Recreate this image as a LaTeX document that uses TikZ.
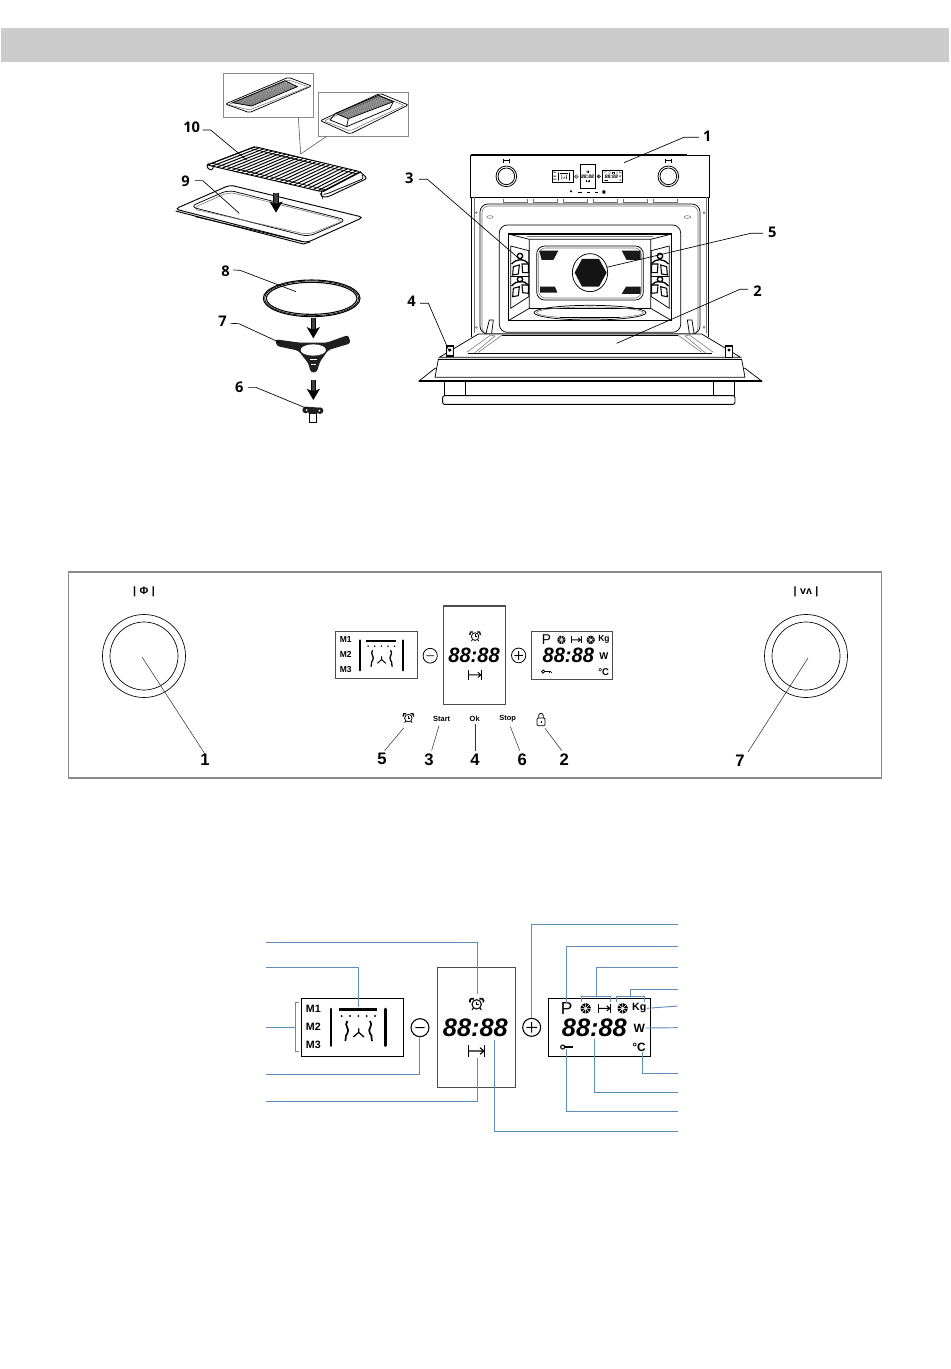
\documentclass[tikz,border=0pt]{standalone}
\usepackage{fontspec}
\setmainfont{Liberation Sans}
\newfontfamily\topfont{Open Sans}
\usetikzlibrary{calc}
\definecolor{hdr}{HTML}{CCCCCC}
\definecolor{blueline}{HTML}{5F8DB8}
\definecolor{framegrey}{HTML}{8A8A8A}
\def\lwA{.7pt}
\tikzset{
  zoomat/.style 2 args={shift={(#1*.75pt,-#2*.75pt)},x=.25pt,y=-.25pt},
  leader/.style={draw=black,line width=.5pt},
  panelleader/.style={draw=black!80,line width=.4pt},
  numtop/.style={font=\topfont\bfseries\fontsize{11}{12}\selectfont,text=black,inner sep=0pt},
  numpanel/.style={font=\bfseries\fontsize{12.5}{14}\selectfont,text=black,inner sep=0pt},
  smalltxt/.style={font=\bfseries\fontsize{5.6}{7}\selectfont,text=black,inner sep=0pt},
  disptxt/.style={font=\bfseries\fontsize{8}{9}\selectfont,text=black,inner sep=0pt,transform shape},
  bigdisp/.style={font=\bfseries\fontsize{9}{10}\selectfont,text=black,inner sep=0pt,transform shape},
  seg/.style={font=\bfseries\itshape\fontsize{19}{22}\selectfont,text=black,inner sep=0pt,transform shape},
  blue/.style={draw=blueline,line width=.7pt},
  dispframe/.style={draw=black,line width=.7pt},
  centerframe/.style={draw=black!70,line width=.7pt},
  oven/.style={draw=black,line width=.55pt},
  ovenlight/.style={draw=black!55,line width=.4pt},
}
\newcommand\alarmicon[3]{\begin{scope}[shift={(#1,#2)},scale=#3]
    \draw[line width=\lwA] (0,3) circle [radius=14];
    \draw[line width=\lwA] (0,-5) -- (0,4) -- (7,4);
    \draw[line width=1.6*\lwA] (-20,-3) .. controls (-23,-12) and (-14,-18) .. (-8,-14);
    \draw[line width=1.6*\lwA] (20,-3) .. controls (23,-12) and (14,-18) .. (8,-14);
    \draw[line width=\lwA] (-10,14) -- (-14,20) (10,14) -- (14,20);
\end{scope}}
\newcommand\cookicon[3]{\begin{scope}[shift={(#1,#2)},scale=#3]
    \draw[line width=\lwA] (-24,-17) -- (-24,17) (24,-17) -- (24,17);
    \draw[line width=\lwA] (-24,0) -- (22,0) (10,-10) -- (22,0) -- (10,10);
\end{scope}}
\newcommand\snowicon[2]{\begin{scope}[shift={(#1,#2)}]
    \fill[black] (0,0) circle [radius=16];
    \draw[white,line width=.45*\lwA] (-17,0) -- (17,0) (0,-17) -- (0,17) (-12,-12) -- (12,12) (-12,12) -- (12,-12);
\end{scope}}
\newcommand\keyicon[2]{\begin{scope}[shift={(#1,#2)}]
    \draw[line width=\lwA] (-12,0) circle [radius=6];
    \draw[line width=\lwA] (-6,0) -- (18,0);
    \draw[line width=1.4*\lwA] (13,0) -- (13,4) (18,0) -- (18,4);
\end{scope}}
\newcommand\lockicon[2]{\begin{scope}[shift={(#1,#2)}]
    \draw[line width=\lwA,rounded corners=.8pt] (-12,-3) rectangle (12,20);
    \draw[line width=\lwA] (-7,-3) -- (-7,-10) arc [start angle=180,end angle=360,radius=7] -- (7,-3);
    \draw[line width=\lwA] (0,5) -- (0,12);
\end{scope}}
\newcommand\arrowblock[2]{\begin{scope}[shift={(#1,#2)}]
    \fill[black!75] (-7,0) rectangle (7,34);
    \draw[black,line width=.4pt] (-7,0) -- (-7,34) (7,0) -- (7,34);
    \fill[black] (-20,26) -- (0,60) -- (20,26) -- (7,32) -- (-7,32) -- cycle;
\end{scope}}
\newcommand\sidewall{%
    \draw[oven] (332,378) -- (386,392) -- (386,530) -- (332,565) -- cycle;
    \draw[line width=1pt] (360,408) circle [radius=8];
    \draw[line width=1pt] (335,432) .. controls (350,415) and (372,415) .. (385,430);
    \draw[line width=.8pt,fill=white] (340,440) -- (358,435) -- (355,462) -- (338,465) -- cycle;
    \draw[line width=.8pt,fill=white] (366,432) -- (385,432) -- (385,458) -- (368,458) -- cycle;
    \draw[line width=1pt] (360,478) circle [radius=8];
    \draw[line width=1pt] (335,498) .. controls (350,480) and (372,480) .. (385,495);
    \draw[line width=.8pt,fill=white] (340,505) -- (358,500) -- (355,527) -- (338,530) -- cycle;
    \draw[line width=.8pt,fill=white] (366,495) -- (385,495) -- (385,520) -- (368,518) -- cycle;
    \draw[line width=1.2pt] (332,470) -- (386,470);
}
% the whole three-part display, in the coordinates of the large version
\newcommand\displaygroup{%
  \draw[dispframe] (123,250) rectangle (431,423);
  \node[disptxt] (m1) at (160,280) {M1};
  \node[disptxt] (m2) at (160,335) {M2};
  \node[disptxt] (m3) at (160,390) {M3};
  \draw[line width=2.4*\lwA,line cap=round] (213,282) -- (213,392) (376,282) -- (376,392);
  \draw[line width=2.4*\lwA] (238,284) -- (350,284);
  \foreach \d in {245,270,295,320,345} {\fill (\d,303) circle [radius=3.2];}
  \draw[line width=1.6*\lwA] (262,318) .. controls (250,332) and (272,342) .. (262,355) .. controls (252,366) and (262,372) .. (256,378);
  \draw[line width=1.6*\lwA] (330,318) .. controls (342,332) and (320,342) .. (330,355) .. controls (340,366) and (330,372) .. (336,378);
  \draw[line width=1.2*\lwA] (296,340) -- (296,352) -- (280,366) (296,352) -- (312,366);
  \draw[line width=\lwA] (480,338) circle [radius=27] (466,338) -- (494,338);
  \draw[centerframe] (531,156) rectangle (765,516);
  \alarmicon{650}{265}{1}
  \node[seg] (t1) at (646,337) {88:88};
  \cookicon{650}{408}{1}
  \draw[line width=\lwA] (815,337) circle [radius=27] (799,337) -- (831,337) (815,321) -- (815,353);
  \draw[dispframe] (865,251) rectangle (1170,424);
  \node[disptxt,font=\fontsize{13}{14}\selectfont] (pp) at (920,280) {P};
  \snowicon{977}{280}
  \cookicon{1033}{280}{.75}
  \snowicon{1088}{280}
  \node[disptxt] (kg) at (1138,280) {Kg};
  \node[seg] (t2) at (1003,337) {88:88};
  \node[bigdisp] (ww) at (1138,339) {W};
  \keyicon{920}{396}
  \node[bigdisp] (cc) at (1137,397) {°C};
}
\begin{document}
\begin{tikzpicture}[x=.75pt,y=-.75pt]
\useasboundingbox[fill=white] (0,0) rectangle (950,1369);
\fill[hdr] (1,28) rectangle (949,62);

% ---------- accessories
\begin{scope}[zoomat={160}{60}]
  \draw[framegrey,line width=.7pt] (190,40) rectangle (460,172);
  \draw[framegrey,line width=.7pt] (476,97) rectangle (746,229);
  \coordinate (join) at (422,282);
  \coordinate (ia) at (415,172);
  \coordinate (ib) at (500,229);
  \draw[black!70,line width=.4pt] (ia) -- (join) -- (ib);
  % inset trays
  \draw[oven,rounded corners=1.5pt] (196,132) -- (385,52) -- (455,78) -- (268,158) -- cycle;
  \draw[ovenlight,rounded corners=1.5pt] (205,134) -- (385,60) -- (445,80) -- (268,150) -- cycle;
  \foreach \t in {0,.022,...,1.01} {\draw[black!75,line width=.3pt] ($(218,128)!\t!(375,62)$) -- ($(275,138)!\t!(412,80)$);}
  \draw[oven] (218,128) -- (375,62) -- (412,80) -- (275,138) -- cycle;
  \draw[oven,rounded corners=1.5pt] (481,182) -- (660,100) -- (745,135) -- (570,222) -- cycle;
  \draw[ovenlight,rounded corners=1.5pt] (492,183) -- (660,108) -- (733,136) -- (570,213) -- cycle;
  \foreach \t in {0,.024,...,1.01} {\draw[black!75,line width=.3pt] ($(527,160)!\t!(655,106)$) -- ($(565,176)!\t!(700,125)$);}
  \draw[oven] (527,160) -- (655,106) -- (700,125) -- (565,176) -- cycle;
  \draw[oven] (527,160) -- (510,180) -- (560,200) -- (565,176) (560,200) -- (690,145) -- (700,125);
  % grid
  \coordinate (gfl) at (142,315);
  \coordinate (gbl) at (285,260);
  \coordinate (gbr) at (600,335);
  \coordinate (gfr) at (485,395);
  \foreach \t in {0,.042,...,1.01} {\draw[black,line width=.75pt] ($(gfl)!\t!(gfr)$) -- ($(gbl)!\t!(gbr)$);}
  \draw[black,line width=.7pt,rounded corners=1.5pt] (gfl) -- (gbl) -- (gbr) -- (gfr) -- cycle;
  \draw[black,line width=.5pt] ($(gfl)!.1!(gbl)$) -- ($(gfr)!.1!(gbr)$) ($(gfl)!.9!(gbl)$) -- ($(gfr)!.9!(gbr)$);
  \draw[black,line width=.7pt,rounded corners=2pt] (gfl) -- (138,320) -- (155,333) -- (160,322);
  \draw[black,line width=.7pt,rounded corners=2pt] (gbr) -- (622,355) -- (505,410) -- (487,412) -- (482,402) -- (gfr);
  \draw[black,line width=.6pt,rounded corners=2pt] (606,345) -- (612,355) -- (500,402) -- (490,403);
  % tray
  \draw[oven,line width=.7pt,rounded corners=3pt] (45,447) -- (210,375) -- (610,472) -- (440,548) -- cycle;
  \draw[oven,rounded corners=5pt] (90,440) -- (205,390) -- (560,480) -- (445,530) -- cycle;
  \draw[ovenlight,rounded corners=5pt] (95,446) -- (207,396) -- (552,482) -- (445,524) -- cycle;
  \draw[oven,line width=.7pt] (47,453) -- (430,552) -- (450,546);
  \draw[oven] (105,470) -- (425,544);
  \arrowblock{348}{398}
  % ring
  \draw[black,line width=.8pt] (455,715) ellipse [x radius=145,y radius=55];
  \draw[black,line width=.8pt] (455,715) ellipse [x radius=136,y radius=48];
  \draw[black,line width=.5pt] (455,715) ellipse [x radius=141,y radius=52];
  \arrowblock{460}{775}
  % spider
  \fill[black!88,rounded corners=2pt] (346,838) -- (350,858) -- (415,872) -- (445,910) -- (452,937) -- (470,937) -- (480,905) -- (505,870) -- (572,850) -- (565,825) -- (500,848) -- (420,848) -- cycle;
  \fill[white] (460,870) ellipse [x radius=38,y radius=17];
  \draw[white,line width=.4pt] (450,898) -- (472,898) (454,912) -- (468,912);
  \arrowblock{460}{960}
  % coupler
  \fill[black!88] (437,1050) circle [radius=10] (480,1052) circle [radius=10] (438,1040) -- (480,1043) -- (470,1064) -- (448,1064) -- cycle;
  \fill[white] (440,1050) circle [radius=3] (478,1052) circle [radius=3];
  \draw[oven,fill=white] (448,1062) -- (448,1086) -- (468,1086) -- (468,1062);
  % labels
  \node[numtop] (n10) at (95,202) {10};
  \coordinate (e10) at (260,300);
  \draw[leader] (n10.east) ++(7,8) -- ++(24,0) -- (e10);
  \node[numtop] (n9) at (77,365) {9};
  \coordinate (e9) at (238,460);
  \draw[leader] (n9.east) ++(14,-3) -- ++(24,0) -- (e9);
  \node[numtop] (n8) at (197,633) {8};
  \coordinate (e8) at (408,695);
  \draw[leader] (n8.east) ++(10,-3) -- ++(20,1) -- (e8);
  \node[numtop] (n7) at (188,785) {7};
  \coordinate (e7) at (360,848);
  \draw[leader] (n7.east) ++(10,5) -- ++(25,1) -- (e7);
  \node[numtop] (n6) at (238,982) {6};
  \coordinate (e6) at (440,1045);
  \draw[leader] (n6.east) ++(12,0) -- ++(24,0) -- (e6);
\end{scope}

% ---------- oven
\begin{scope}[zoomat={400}{120}]
  \draw[oven,line width=.7pt] (212,105) rectangle (928,232);
  \draw[black,line width=1pt] (212,105) -- (860,105) (212,232) -- (928,232);
  \foreach \k in {319,805} {
    \draw[oven,line width=.6pt] (\k,169) circle [radius=31];
    \draw[oven,line width=.6pt] (\k,169) circle [radius=25];
    \draw[line width=.6pt] (\k-8,116) -- (\k-8,128) (\k+8,116) -- (\k+8,128) (\k-8,122) -- (\k+8,122);
  }
  \foreach \x/\y in {310/382,399/471,490/561,580/652,670/743,760/832} {\draw[ovenlight] (\x,236) -- (\x,247) -- (\y,247) -- (\y,236);}
  \foreach \d in {535,560,585} {\draw[line width=.5pt] (\d,216) -- (\d+10,216);}
  \fill (513,214) circle [radius=3.5];
  \fill[rounded corners=.5pt] (607,211) rectangle (616,221);
  \draw[oven] (215,232) -- (215,650) (925,232) -- (925,650);
  \draw[ovenlight] (222,232) -- (222,640) (918,232) -- (918,640);
  \draw[oven,rounded corners=6pt] (240,252) rectangle (900,642);
  \draw[ovenlight,rounded corners=5pt] (246,258) rectangle (894,642);
  \draw[ovenlight] (270,291) ellipse [x radius=10,y radius=4] (862,291) ellipse [x radius=10,y radius=4];
  \draw[ovenlight] (229,278) circle [radius=3] (912,278) circle [radius=3] (229,622) circle [radius=3] (912,622) circle [radius=3];
  \draw[oven,rounded corners=6pt] (298,315) rectangle (842,637);
  \draw[black,line width=.8pt] (325,342) rectangle (815,602);
  \draw[oven] (325,342) -- (388,358) -- (752,358) -- (815,342);
  \draw[ovenlight] (380,349) -- (760,349);
  \draw[oven] (388,358) -- (388,565) -- (325,602) (752,358) -- (752,565) -- (815,602);
  \draw[oven] (388,565) -- (752,565);
  \sidewall
  \begin{scope}[xshift=285pt,xscale=-1]
    \sidewall
  \end{scope}
  \draw[oven,rounded corners=6pt] (410,378) rectangle (730,540);
  \draw[ovenlight,rounded corners=5pt] (416,384) rectangle (724,534);
  \fill[black!90] (418,392) -- (475,392) -- (460,420) -- (425,420) -- cycle;
  \fill[black!90] (665,392) -- (722,392) -- (722,420) -- (680,420) -- cycle;
  \fill[black!90] (420,500) -- (465,500) -- (472,518) -- (420,518) -- cycle;
  \fill[black!90] (678,500) -- (722,500) -- (722,522) -- (665,522) -- cycle;
  \draw[oven] (570,458) ellipse [x radius=53,y radius=57];
  \fill[black!92] (524,458) -- (546,417) -- (597,417) -- (620,458) -- (597,500) -- (546,500) -- cycle;
  \draw[oven] (570,578) ellipse [x radius=168,y radius=22];
  \draw[ovenlight] (570,578) ellipse [x radius=160,y radius=17];
  \draw[black,line width=.9pt] (480,592) -- (660,592);
  % hinges
  \draw[oven] (258,640) -- (268,600) -- (280,600) -- (275,640) (868,640) -- (862,600) -- (876,600) -- (882,640);
  % door
  \draw[oven,fill=white] (118,712) -- (235,642) -- (905,642) -- (1022,712) -- cycle;
  \draw[oven] (305,646) -- (835,646) (205,700) -- (935,700);
  \draw[ovenlight] (200,697) -- (272,645) -- (285,648) -- (222,700) (235,697) -- (305,646);
  \draw[ovenlight] (940,697) -- (868,645) -- (855,648) -- (918,700) (905,697) -- (835,646);
  \draw[oven,fill=white] (57,783) -- (105,745) -- (1035,745) -- (1085,783) -- cycle;
  \draw[oven,fill=white] (115,718) -- (1025,718) -- (1035,772) -- (105,772) -- cycle;
  \draw[black,line width=1pt] (115,718) -- (1025,718);
  \draw[black,line width=1pt] (57,783) -- (1085,783);
  \draw[oven] (133,783) -- (133,827) (195,783) -- (195,827) (940,783) -- (940,827) (1003,783) -- (1003,827);
  \draw[oven,line width=.7pt,rounded corners=1.5pt] (128,827) rectangle (1005,853);
  \draw[oven,line width=.8pt,fill=white] (140,678) rectangle (160,708);
  \draw[oven,line width=.8pt,fill=white] (977,678) rectangle (997,712);
  \fill (150,690) circle [radius=5] (987,690) circle [radius=5];
  % mini display
  \begin{scope}[shift={(108.35pt,-25.5pt)},scale=.2,name prefix=m-]
    \def\lwA{.25pt}
    \tikzset{dispframe/.style={draw=black,line width=.5pt},centerframe/.style={draw=black,line width=.5pt}}
    \displaygroup
  \end{scope}
  % labels
  \node[numtop] (o1) at (922,50) {1};
  \coordinate (f1) at (672,128);
  \draw[leader] (o1.west) ++(-12,2) -- ++(-45,0) -- (f1);
  \node[numtop] (o3) at (28,176) {3};
  \coordinate (f3) at (362,420);
  \draw[leader] (o3.east) ++(16,2) -- ++(25,0) -- (f3);
  \node[numtop] (o5) at (1117,338) {5};
  \coordinate (f5) at (620,442);
  \draw[leader] (o5.west) ++(-14,2) -- ++(-38,0) -- (f5);
  \node[numtop] (o2) at (1073,515) {2};
  \coordinate (f2) at (650,670);
  \draw[leader] (o2.west) ++(-15,-7) -- ++(-25,0) -- (f2);
  \node[numtop] (o4) at (35,545) {4};
  \coordinate (f4) at (148,695);
  \draw[leader] (o4.east) ++(12,5) -- ++(25,0) -- (f4);
\end{scope}

% ---------- control panel
\draw[draw=framegrey,line width=1pt] (68.5,572) rectangle (881.5,778);
\foreach \k in {144,806} {
  \draw[black,line width=.5pt] (\k,656) circle [radius=41.5];
  \draw[black,line width=.5pt] (\k,656) circle [radius=34];
}
\node[font=\bfseries\fontsize{8}{9}\selectfont,inner sep=0pt] (sym1) at (144,592) {|\,\,Φ\,\,|};
\node[font=\bfseries\fontsize{8}{9}\selectfont,inner sep=0pt] (sym2) at (806,592) {|\,\,vʌ\,\,|};
\coordinate (kl) at (142,657);
\coordinate (kr) at (808,658);
\node[numpanel] (p1) at (205,760) {1};
\node[numpanel] (p7) at (740,761) {7};
\draw[panelleader] (kl) -- (p1.north);
\draw[panelleader] (kr) -- ($(p7.north)+(8,-3)$);
\begin{scope}[shift={(227.6pt,-422.5pt)},x=.25pt,y=-.25pt,xscale=.792,yscale=.82,name prefix=c-,
    dispframe/.style={draw=black!70,line width=.8pt},centerframe/.style={draw=black!70,line width=.8pt}]
  \def\lwA{.6pt}
  \displaygroup
\end{scope}
\begin{scope}[zoomat={320}{595}]
  \def\lwA{.6pt}
  \alarmicon{265}{367}{.8}
  \lockicon{663}{372}
  \node[smalltxt] (ls) at (365,373) {Start};
  \node[smalltxt] (lo) at (464,372) {Ok};
  \node[smalltxt] (lt) at (563,370) {Stop};
  \coordinate (la) at (252,398);
  \coordinate (ll) at (675,400);
  \node[numpanel] (q5) at (186,493) {5};
  \node[numpanel] (q3) at (327,493) {3};
  \node[numpanel] (q4) at (465,493) {4};
  \node[numpanel] (q6) at (607,493) {6};
  \node[numpanel] (q2) at (733,493) {2};
  \draw[panelleader] (la) -- ($(q5.north)+(8,-8)$);
  \draw[panelleader] (ls.south) ++(-8,10) -- ($(q3.north)+(8,-8)$);
  \draw[panelleader] (lo.south) ++(1,6) -- ($(q4.north)+(0,-8)$);
  \draw[panelleader] (lt.south) ++(8,14) -- ($(q6.north)+(-8,-8)$);
  \draw[panelleader] (ll) -- ($(q2.north)+(-8,-8)$);
\end{scope}

% ---------- display key
\begin{scope}[zoomat={260}{915},name prefix=k-]
  \def\lwA{.8pt}
  \displaygroup
  \draw[blue] (17,82) -- (652,82) -- (652,238);
  \draw[blue] (17,157) -- (295,157) -- (295,275);
  \draw[blue] (17,338) -- (107,338);
  \draw[blue] (118,263) -- (107,263) -- (107,410) -- (118,410);
  \draw[blue] (17,479) -- (478,479) -- (478,365);
  \draw[blue] (17,559) -- (652,559) -- (652,430);
  \draw[blue] (1253,28) -- (813,28) -- (813,310);
  \draw[blue] (1253,94) -- (920,94) -- (920,265);
  \draw[blue] (1253,157) -- (1008,157) -- (1008,243);
  \draw[blue] (965,262) -- (965,243) -- (1050,243) -- (1050,262);
  \draw[blue] (1253,223) -- (1110,223) -- (1110,243);
  \draw[blue] (1068,262) -- (1068,243) -- (1152,243) -- (1152,262);
  \draw[blue] (1253,273) -- (kg.east);
  \draw[blue] (1253,338) -- (ww.east);
  \draw[blue] (1253,476) -- (1147,476) -- (1147,412);
  \draw[blue] (1253,532) -- (1004,532) -- (1004,372);
  \draw[blue] (1253,589) -- (918,589) -- (918,403);
  \draw[blue] (1253,650) -- (704,650) -- (704,375);
\end{scope}
\end{tikzpicture}
\end{document}
